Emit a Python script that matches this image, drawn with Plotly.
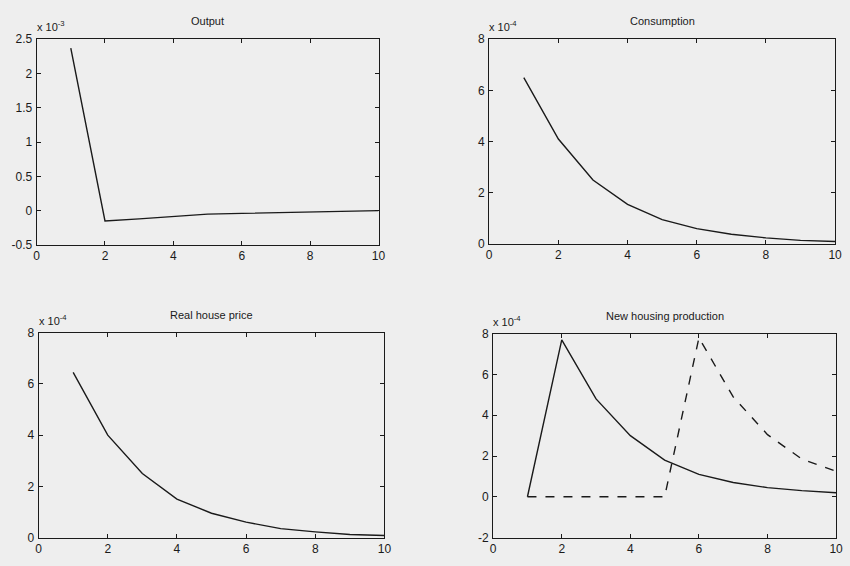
import plotly.graph_objects as go

periods = list(range(1, 11))

# values in units of 1e-3 (output) and 1e-4 (others)
output_e3 = [2.37, -0.15, -0.12, -0.09, -0.05, -0.04, -0.03, -0.02, -0.02, 0.0]
consumption_e4 = [6.5, 4.1, 2.5, 1.55, 0.95, 0.6, 0.38, 0.24, 0.14, 0.1]
house_price_e4 = [6.45, 4.0, 2.5, 1.5, 0.95, 0.6, 0.35, 0.22, 0.12, 0.08]
housing_solid_e4 = [0.0, 7.7, 4.8, 3.0, 1.8, 1.1, 0.7, 0.45, 0.3, 0.2]
housing_dashed_e4 = [0.0, 0.0, 0.0, 0.0, 0.0, 7.8, 4.9, 3.05, 1.85, 1.25]

titles = ["Output", "Consumption", "Real house price", "New housing production"]
exponents = ["-3", "-4", "-4", "-4"]
y_ranges = [[-0.5, 2.5], [0, 8], [0, 8], [-2, 8]]
y_ticks = [
    [-0.5, 0, 0.5, 1, 1.5, 2, 2.5],
    [0, 2, 4, 6, 8],
    [0, 2, 4, 6, 8],
    [-2, 0, 2, 4, 6, 8],
]
x_ticks = [0, 2, 4, 6, 8, 10]

W, H = 850, 566
# panel boxes in pixels: (left, right, top, bottom)
boxes = [(34, 380, 33, 244), (492, 842, 33, 243),
         (36, 386, 334, 544), (496, 843, 335, 544)]

BG = "#eeeeee"
INK = "#1a1a1a"
FONT = "Arial, Liberation Sans, sans-serif"

fig = go.Figure()

series = [
    [(output_e3, "solid")],
    [(consumption_e4, "solid")],
    [(house_price_e4, "solid")],
    [(housing_solid_e4, "solid"), (housing_dashed_e4, "dash")],
]

for i, traces in enumerate(series):
    n = "" if i == 0 else str(i + 1)
    for vals, dash in traces:
        fig.add_trace(go.Scatter(
            x=periods, y=vals, mode="lines",
            line=dict(color=INK, width=1.4, dash=dash),
            xaxis="x" + n, yaxis="y" + n, showlegend=False
        ))

    l, r, t, b = boxes[i]
    ax = dict(
        showline=True, linecolor=INK, linewidth=1, mirror="ticks",
        ticks="inside", ticklen=4, tickcolor=INK, showgrid=False,
        zeroline=False, tickfont=dict(family=FONT, size=12, color=INK),
        ticklabeloverflow="allow",
    )
    fig.update_layout(**{
        "xaxis" + n: dict(ax, domain=[l / W, r / W], range=[0, 10],
                          tickvals=x_ticks, ticktext=[str(v) for v in x_ticks],
                          anchor="y" + n),
        "yaxis" + n: dict(ax, domain=[1 - b / H, 1 - t / H], range=y_ranges[i],
                          tickvals=y_ticks[i],
                          ticktext=[("%g" % v) for v in y_ticks[i]],
                          ticklabelstandoff=1, anchor="x" + n),
    })

    fig.add_annotation(
        x=(l + r) / 2 / W, y=1 - (t - 10) / H, xref="paper", yref="paper",
        text=titles[i], showarrow=False, xanchor="center", yanchor="bottom",
        font=dict(family=FONT, size=11, color=INK)
    )
    fig.add_annotation(
        x=(l - 2) / W, y=1 - (t - 4) / H, xref="paper", yref="paper",
        text="x 10<sup>" + exponents[i] + "</sup>", showarrow=False,
        xanchor="left", yanchor="bottom",
        font=dict(family=FONT, size=11, color=INK)
    )

fig.update_layout(
    width=W, height=H,
    margin=dict(l=0, r=0, t=0, b=0),
    paper_bgcolor=BG, plot_bgcolor=BG,
    font=dict(family=FONT, color=INK),
)

# drop the default page margin so the figure fills the window
fig.write_html("out.html", config={"displayModeBar": False},
               post_script="document.body.style.margin='0px';")
